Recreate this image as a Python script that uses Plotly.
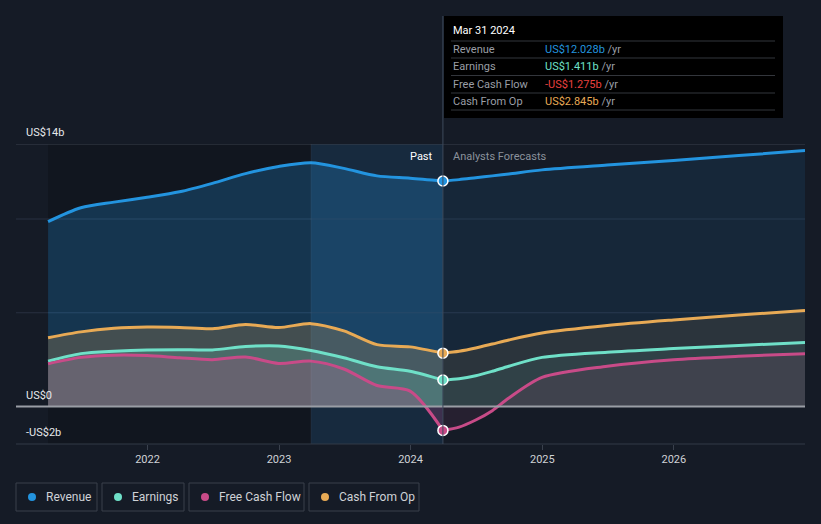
import plotly.graph_objects as go

# ---------------- data ----------------
past_dates = ["2021-03-31", "2021-06-30", "2021-09-30", "2021-12-31", "2022-03-31", "2022-06-30",
              "2022-09-30", "2022-12-31", "2023-03-31", "2023-06-30", "2023-09-30", "2023-12-31",
              "2024-03-31"]
fc_dates = ["2024-03-31", "2024-05-15", "2024-06-30", "2024-08-15", "2024-09-30", "2024-12-31",
            "2025-06-30", "2025-12-31", "2026-06-30", "2026-12-31"]

revenue_past = [9.86, 10.6, 10.9, 11.16, 11.45, 11.9, 12.42, 12.80, 13.0, 12.7, 12.3, 12.18, 12.028]
revenue_fc = [12.028, 12.1, 12.2, 12.3, 12.4, 12.62, 12.88, 13.12, 13.38, 13.65]

earnings_past = [2.42, 2.82, 2.95, 3.02, 3.03, 3.02, 3.20, 3.23, 2.99, 2.60, 2.12, 1.88, 1.411]
earnings_fc = [1.411, 1.48, 1.64, 1.88, 2.15, 2.62, 2.90, 3.09, 3.26, 3.41]

fcf_past = [2.28, 2.62, 2.74, 2.72, 2.60, 2.50, 2.64, 2.30, 2.42, 2.00, 1.12, 0.82, -1.275]
fcf_fc = [-1.275, -1.1, -0.72, -0.22, 0.45, 1.55, 2.15, 2.50, 2.68, 2.82]

cfo_past = [3.67, 3.98, 4.17, 4.24, 4.22, 4.15, 4.37, 4.21, 4.42, 4.03, 3.30, 3.18, 2.845]
cfo_fc = [2.845, 2.95, 3.12, 3.33, 3.55, 3.92, 4.32, 4.62, 4.88, 5.12]

series_names = ["Revenue", "Earnings", "Free Cash Flow", "Cash From Op"]
tooltip_values = ["US$12.028b", "US$1.411b", "-US$1.275b", "US$2.845b"]
tooltip_date = "Mar 31 2024"
y_labels = ["US$14b", "US$0", "-US$2b"]
y_label_vals = [14, 0, -2]
x_tick_vals = ["2022-01-01", "2023-01-01", "2024-01-01", "2025-01-01", "2026-01-01"]
x_tick_text = ["2022", "2023", "2024", "2025", "2026"]

# ---------------- style ----------------
BG = "#151b26"
COL = {"Revenue": "#2394df", "Earnings": "#6fe0c8", "Free Cash Flow": "#c84b88", "Cash From Op": "#e8aa55"}
TT_COL = {"Revenue": "#2394df", "Earnings": "#6fe0c8", "Free Cash Flow": "#e8403f", "Cash From Op": "#e8aa55"}

W, H = 821, 524
L, R, T, B = 16, 16, 144, 80
PW, PH = W - L - R, H - T - B


def px(x):
    return (x - L) / PW


def py(y):
    return (H - B - y) / PH


def rgba(hexc, a):
    h = hexc.lstrip("#")
    return "rgba(%d,%d,%d,%.3f)" % (int(h[0:2], 16), int(h[2:4], 16), int(h[4:6], 16), a)


fig = go.Figure()

data = [
    ("Revenue", revenue_past, revenue_fc, 0.25, 0.10),
    ("Cash From Op", cfo_past, cfo_fc, 0.22, 0.10),
    ("Earnings", earnings_past, earnings_fc, 0.20, 0.08),
    ("Free Cash Flow", fcf_past, fcf_fc, 0.22, 0.10),
]

for name, vp, vf, ap, af in data:
    c = COL[name]
    fig.add_trace(go.Scatter(x=past_dates, y=vp, mode="lines", line=dict(color=c, width=3, shape="spline", smoothing=0.8),
                             fill="tozeroy", fillcolor=rgba(c, ap), hoverinfo="skip"))
    fig.add_trace(go.Scatter(x=fc_dates, y=vf, mode="lines", line=dict(color=c, width=3, shape="spline", smoothing=0.8),
                             fill="tozeroy", fillcolor=rgba(c, af), hoverinfo="skip"))

# markers at the last actual point
for name, vp, _, _, _ in data:
    fig.add_trace(go.Scatter(x=[past_dates[-1]], y=[vp[-1]], mode="markers",
                             marker=dict(color=COL[name], size=10, line=dict(color="white", width=1.5)),
                             hoverinfo="skip"))

shapes = []
# darker past region
shapes.append(dict(type="rect", xref="x", yref="paper", x0=past_dates[0], x1="2023-03-31", y0=0, y1=1,
                   fillcolor="rgba(0,0,0,0.18)", line=dict(width=0), layer="below"))
# highlighted last year band
shapes.append(dict(type="rect", xref="x", yref="paper", x0="2023-03-31", x1=past_dates[-1], y0=0, y1=1,
                   fillcolor="rgba(35,148,223,0.13)", line=dict(width=0), layer="below"))
shapes.append(dict(type="line", xref="x", yref="paper", x0="2023-03-31", x1="2023-03-31", y0=0, y1=1,
                   line=dict(color="rgba(255,255,255,0.06)", width=1)))
# grid lines
for v, c in [(14, "#3a414d"), (10, "#283140"), (5, "#283140")]:
    shapes.append(dict(type="line", xref="paper", yref="y", x0=0, x1=1, y0=v, y1=v, line=dict(color=c, width=1),
                       layer="below"))
# zero line
shapes.append(dict(type="line", xref="paper", yref="y", x0=0, x1=1, y0=0, y1=0, line=dict(color="#9a9ea5", width=2)))
# bottom axis line
shapes.append(dict(type="line", xref="paper", yref="paper", x0=0, x1=1, y0=0, y1=0, line=dict(color="#323a47", width=1)))
# vertical marker line at the present
shapes.append(dict(type="line", xref="x", yref="paper", x0=past_dates[-1], x1=past_dates[-1], y0=0, y1=py(16),
                   line=dict(color="#3d4a5c", width=1)))

# tooltip box
shapes.append(dict(type="rect", xref="paper", yref="paper", x0=px(444), x1=px(783), y0=py(118), y1=py(16),
                   fillcolor="#000000", line=dict(width=0)))
for yy in [41, 58, 75.5, 93, 110]:
    shapes.append(dict(type="line", xref="paper", yref="paper", x0=px(451), x1=px(775), y0=py(yy), y1=py(yy),
                       line=dict(color="#33363c", width=1)))

annotations = []
annotations.append(dict(xref="paper", yref="paper", x=px(451), y=py(31), text=tooltip_date, showarrow=False,
                        xanchor="left", yanchor="middle", font=dict(color="#ffffff", size=11)))
row_y = [49, 66, 84, 101]
for name, val, yy in zip(series_names, tooltip_values, row_y):
    annotations.append(dict(xref="paper", yref="paper", x=px(451), y=py(yy), text=name, showarrow=False,
                            xanchor="left", yanchor="middle", font=dict(color="#9a9ea6", size=11)))
    annotations.append(dict(xref="paper", yref="paper", x=px(543), y=py(yy),
                            text="<span style='color:%s'>%s</span> /yr" % (TT_COL[name], val), showarrow=False,
                            xanchor="left", yanchor="middle", font=dict(color="#9a9ea6", size=11)))

# y labels
label_shift = {14: 12, 0: 11, -2: 12}
for lab, v in zip(y_labels, y_label_vals):
    annotations.append(dict(xref="paper", yref="y", x=px(24), y=v, text=lab, showarrow=False,
                            xanchor="left", yanchor="middle", yshift=label_shift[v],
                            font=dict(color="#e6e8eb", size=11)))

annotations.append(dict(xref="paper", yref="paper", x=px(435), y=py(156), text="Past", showarrow=False,
                        xanchor="right", yanchor="middle", font=dict(color="#ffffff", size=11)))
annotations.append(dict(xref="paper", yref="paper", x=px(451), y=py(156), text="Analysts Forecasts", showarrow=False,
                        xanchor="left", yanchor="middle", font=dict(color="#8b929c", size=11)))

# custom legend
legend_boxes = [(16, 97), (102, 184), (189, 304), (309, 419)]
for name, (x0, x1) in zip(series_names, legend_boxes):
    shapes.append(dict(type="rect", xref="paper", yref="paper", x0=px(x0), x1=px(x1), y0=py(511), y1=py(483),
                       fillcolor="rgba(0,0,0,0)", line=dict(color="#3a404b", width=1)))
    shapes.append(dict(type="circle", xref="paper", yref="paper", x0=px(x0 + 12), x1=px(x0 + 20), y0=py(501),
                       y1=py(493), fillcolor=COL[name], line=dict(width=0)))
    annotations.append(dict(xref="paper", yref="paper", x=px(x0 + 28), y=py(497), text=name, showarrow=False,
                            xanchor="left", yanchor="middle", font=dict(color="#cfd2d6", size=12)))

fig.update_layout(
    width=W, height=H,
    margin=dict(l=L, r=R, t=T, b=B),
    paper_bgcolor=BG, plot_bgcolor=BG,
    showlegend=False,
    font=dict(family="Roboto, sans-serif", color="#cfd2d6", size=11),
    shapes=shapes, annotations=annotations,
    xaxis=dict(type="date", range=["2021-01-01", "2026-12-31"], showgrid=False, zeroline=False,
               tickmode="array", tickvals=x_tick_vals, ticktext=x_tick_text, ticks="outside", ticklen=5,
               tickcolor="#3a414d", tickfont=dict(color="#cfd2d6", size=11), showline=False, fixedrange=True),
    yaxis=dict(range=[-2, 14], showgrid=False, zeroline=False, showticklabels=False, fixedrange=True),
)

fig.write_html("out.html", config={"displayModeBar": False, "staticPlot": True},
               post_script="document.body.style.margin='0';document.body.style.background='%s';" % BG)
